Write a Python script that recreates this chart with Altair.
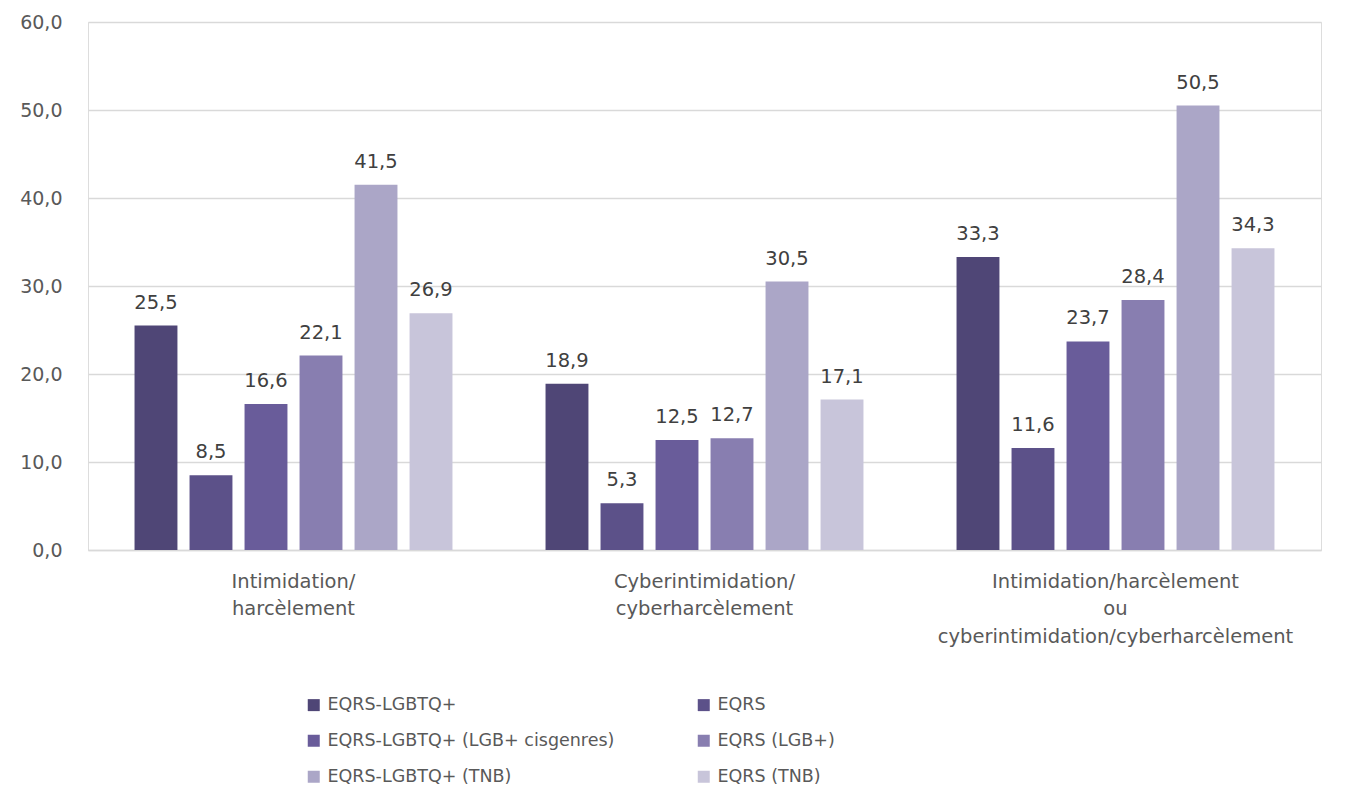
import altair as alt
import pandas as pd

categories = [
    "Intimidation/|harcèlement",
    "Cyberintimidation/|cyberharcèlement",
    "Intimidation/harcèlement|ou|cyberintimidation/cyberharcèlement",
]
series = [
    "EQRS-LGBTQ+",
    "EQRS",
    "EQRS-LGBTQ+ (LGB+ cisgenres)",
    "EQRS (LGB+)",
    "EQRS-LGBTQ+ (TNB)",
    "EQRS (TNB)",
]
values = [
    [25.5, 8.5, 16.6, 22.1, 41.5, 26.9],
    [18.9, 5.3, 12.5, 12.7, 30.5, 17.1],
    [33.3, 11.6, 23.7, 28.4, 50.5, 34.3],
]
colors = ["#4F4676", "#5C5189", "#695C9A", "#887EB0", "#ABA6C7", "#C8C5DA"]

rows = []
for c, vals in zip(categories, values):
    for s, v in zip(series, vals):
        rows.append({"cat": c, "series": s, "value": v})
df = pd.DataFrame(rows)

FONT = "DejaVu Sans"
GREY = "#595959"

base = alt.Chart(df).encode(
    x=alt.X(
        "cat:N",
        sort=categories,
        title=None,
        scale=alt.Scale(paddingInner=0.197, paddingOuter=0.0985),
        axis=alt.Axis(
            labelAngle=0,
            labelExpr="split(datum.label, '|')",
            labelFont=FONT,
            labelFontSize=19.5,
            labelColor=GREY,
            labelLineHeight=27.5,
            labelPadding=22,
            labelLimit=1000,
            ticks=False,
            domainColor="#D9D9D9",
            domainWidth=1.5,
            labelBaseline="top",
        ),
    ),
    xOffset=alt.XOffset(
        "series:N", sort=series, scale=alt.Scale(paddingInner=0.22, paddingOuter=0.11)
    ),
    y=alt.Y(
        "value:Q",
        title=None,
        scale=alt.Scale(domain=[0, 60], nice=False),
        axis=alt.Axis(
            values=[0, 10, 20, 30, 40, 50, 60],
            labelExpr="replace(format(datum.value, '.1f'), '.', ',')",
            labelFont=FONT,
            labelFontSize=19,
            labelColor=GREY,
            ticks=False,
            domain=False,
            gridColor="#D9D9D9",
            gridWidth=1.5,
            labelPadding=26,
        ),
    ),
)

bars = base.mark_bar().encode(
    color=alt.Color(
        "series:N",
        sort=series,
        scale=alt.Scale(domain=series, range=colors),
        legend=alt.Legend(
            title=None,
            orient="none",
            legendX=217,
            legendY=674,
            direction="horizontal",
            columns=2,
            columnPadding=80,
            rowPadding=17,
            symbolType="square",
            symbolSize=144,
            symbolStrokeWidth=0,
            labelFont=FONT,
            labelFontSize=17.5,
            labelColor=GREY,
            labelOffset=5,
            labelLimit=1000,
        ),
    )
)

labels = base.mark_text(
    baseline="bottom", dy=-13, font=FONT, fontSize=19.5, color="#404040"
).encode(text=alt.Text("label:N")).transform_calculate(
    label="replace(format(datum.value, '.1f'), '.', ',')"
)

chart = (
    alt.layer(bars, labels)
    .properties(
        width=1233,
        height=528,
        autosize=alt.AutoSizeParams(type="none"),
        padding={"left": 80, "top": 14, "right": 19, "bottom": 248},
    )
    .configure_view(stroke=None)
    .configure(background="white")
)

chart.save("out.html", embed_options={"renderer": "svg", "actions": False})
